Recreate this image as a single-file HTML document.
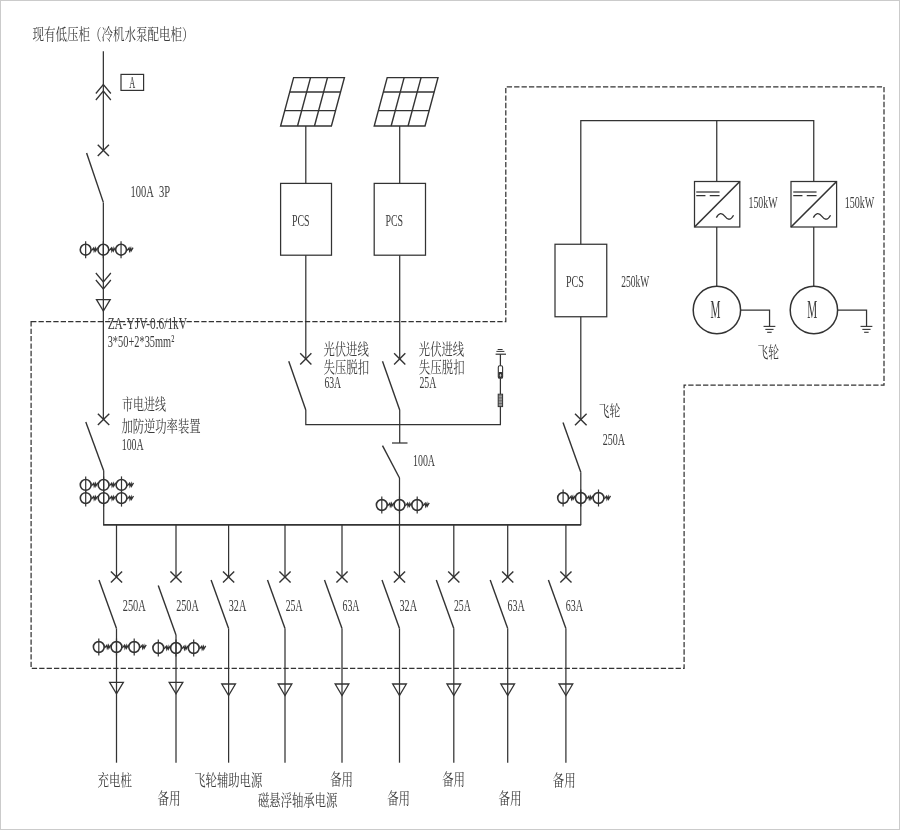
<!DOCTYPE html>
<html lang="zh-CN">
<head>
<meta charset="utf-8">
<title>低压配电系统单线图</title>
<style>
html,body{margin:0;padding:0;background:#fff;}
body{width:900px;height:830px;overflow:hidden;}
svg{display:block;}
.g{stroke:#333;stroke-width:1.25;fill:none;stroke-linecap:butt;stroke-linejoin:miter;}
.dash{stroke-dasharray:5.3 2.1;}
text{fill:#3c3c3c;stroke:none;}
.t text{font-family:"Liberation Serif","Noto Serif CJK SC",serif;}
</style>
</head>
<body>
<svg width="900" height="830" viewBox="0 0 900 830">
<defs><filter id="soft" x="0" y="0" width="900" height="830" filterUnits="userSpaceOnUse"><feGaussianBlur stdDeviation="0.3"/></filter></defs>
<rect x="0" y="0" width="900" height="830" fill="#fff"/>
<rect x="0.5" y="0.5" width="899" height="829" fill="none" stroke="#cbcbcb" stroke-width="1"/>
<g class="g">
<g class="dash">
<polygon points="31.1,321.65 505.8,321.65 505.8,86.9 884,86.9 884,385 684.1,385 684.1,668.35 31.1,668.35" fill="none" stroke-width="1.25"/>
</g>
<line x1="103.35" y1="51.2" x2="103.35" y2="150.4"/>
<polyline points="95.85,93.5 103.35,84.5 110.85,93.5" fill="none"/>
<polyline points="95.85,100 103.35,91 110.85,100" fill="none"/>
<rect x="121" y="74.4" width="22.6" height="16.0" fill="none" stroke-width="1.2"/>
<line x1="97.75" y1="144.8" x2="108.94999999999999" y2="156.0" stroke-width="1.4"/>
<line x1="97.75" y1="156.0" x2="108.94999999999999" y2="144.8" stroke-width="1.4"/>
<line x1="86.6" y1="153" x2="103.35" y2="202.4" stroke-width="1.4"/>
<line x1="103.35" y1="202.4" x2="103.35" y2="419.4"/>
<circle cx="85.64999999999999" cy="249.7" r="5.4" fill="none" stroke-width="1.6"/>
<line x1="85.64999999999999" y1="241.2" x2="85.64999999999999" y2="258.2" stroke-width="1.2"/>
<polyline points="91.45,250.6 93.65,248.0 94.15,251.0 95.35,248.3 95.75,250.8 97.65,247.6" fill="none" stroke-width="1.3"/>
<circle cx="103.35" cy="249.7" r="5.4" fill="none" stroke-width="1.6"/>
<line x1="103.35" y1="241.2" x2="103.35" y2="258.2" stroke-width="1.2"/>
<polyline points="109.15,250.6 111.35,248.0 111.85,251.0 113.05,248.3 113.45,250.8 115.35,247.6" fill="none" stroke-width="1.3"/>
<circle cx="121.05" cy="249.7" r="5.4" fill="none" stroke-width="1.6"/>
<line x1="121.05" y1="241.2" x2="121.05" y2="258.2" stroke-width="1.2"/>
<polyline points="126.85,250.6 129.05,248.0 129.55,251.0 130.75,248.3 131.15,250.8 133.05,247.6" fill="none" stroke-width="1.3"/>
<polyline points="95.85,273 103.35,282 110.85,273" fill="none"/>
<polyline points="95.85,280 103.35,289 110.85,280" fill="none"/>
<polygon points="96.5,299.6 110.19999999999999,299.6 103.35,311" fill="none" stroke-width="1.3"/>
<line x1="97.85" y1="413.7" x2="109.25" y2="425.09999999999997" stroke-width="1.4"/>
<line x1="97.85" y1="425.09999999999997" x2="109.25" y2="413.7" stroke-width="1.4"/>
<line x1="85.8" y1="422.1" x2="103.7" y2="470.8" stroke-width="1.4"/>
<line x1="103.7" y1="470.8" x2="103.7" y2="525"/>
<circle cx="85.70000000000002" cy="484.9" r="5.4" fill="none" stroke-width="1.6"/>
<line x1="85.70000000000002" y1="476.4" x2="85.70000000000002" y2="493.4" stroke-width="1.2"/>
<polyline points="91.5,485.8 93.7,483.2 94.2,486.2 95.4,483.5 95.8,486.0 97.7,482.8" fill="none" stroke-width="1.3"/>
<circle cx="103.60000000000001" cy="484.9" r="5.4" fill="none" stroke-width="1.6"/>
<line x1="103.60000000000001" y1="476.4" x2="103.60000000000001" y2="493.4" stroke-width="1.2"/>
<polyline points="109.4,485.8 111.6,483.2 112.1,486.2 113.3,483.5 113.7,486.0 115.6,482.8" fill="none" stroke-width="1.3"/>
<circle cx="121.5" cy="484.9" r="5.4" fill="none" stroke-width="1.6"/>
<line x1="121.5" y1="476.4" x2="121.5" y2="493.4" stroke-width="1.2"/>
<polyline points="127.3,485.8 129.5,483.2 130.0,486.2 131.2,483.5 131.6,486.0 133.5,482.8" fill="none" stroke-width="1.3"/>
<circle cx="85.70000000000002" cy="498.1" r="5.4" fill="none" stroke-width="1.6"/>
<line x1="85.70000000000002" y1="489.6" x2="85.70000000000002" y2="506.6" stroke-width="1.2"/>
<polyline points="91.5,499.0 93.7,496.4 94.2,499.4 95.4,496.7 95.8,499.2 97.7,496.0" fill="none" stroke-width="1.3"/>
<circle cx="103.60000000000001" cy="498.1" r="5.4" fill="none" stroke-width="1.6"/>
<line x1="103.60000000000001" y1="489.6" x2="103.60000000000001" y2="506.6" stroke-width="1.2"/>
<polyline points="109.4,499.0 111.6,496.4 112.1,499.4 113.3,496.7 113.7,499.2 115.6,496.0" fill="none" stroke-width="1.3"/>
<circle cx="121.5" cy="498.1" r="5.4" fill="none" stroke-width="1.6"/>
<line x1="121.5" y1="489.6" x2="121.5" y2="506.6" stroke-width="1.2"/>
<polyline points="127.3,499.0 129.5,496.4 130.0,499.4 131.2,496.7 131.6,499.2 133.5,496.0" fill="none" stroke-width="1.3"/>
<line x1="103.10000000000001" y1="524.9" x2="581.1" y2="524.9" stroke-width="1.7"/>
<line x1="116.5" y1="525" x2="116.5" y2="577"/>
<line x1="110.9" y1="571.4" x2="122.1" y2="582.6" stroke-width="1.4"/>
<line x1="110.9" y1="582.6" x2="122.1" y2="571.4" stroke-width="1.4"/>
<line x1="99.0" y1="580" x2="116.5" y2="628.5" stroke-width="1.4"/>
<line x1="116.5" y1="628.5" x2="116.5" y2="762.7"/>
<polygon points="109.65,682.3 123.35,682.3 116.5,693.8" fill="none" stroke-width="1.3"/>
<line x1="176" y1="525" x2="176" y2="577"/>
<line x1="170.4" y1="571.4" x2="181.6" y2="582.6" stroke-width="1.4"/>
<line x1="170.4" y1="582.6" x2="181.6" y2="571.4" stroke-width="1.4"/>
<line x1="158.25" y1="585.5" x2="176" y2="635" stroke-width="1.4"/>
<line x1="176" y1="635" x2="176" y2="762.7"/>
<polygon points="169.15,682.3 182.85,682.3 176,693.8" fill="none" stroke-width="1.3"/>
<line x1="228.6" y1="525" x2="228.6" y2="577"/>
<line x1="223.0" y1="571.4" x2="234.2" y2="582.6" stroke-width="1.4"/>
<line x1="223.0" y1="582.6" x2="234.2" y2="571.4" stroke-width="1.4"/>
<line x1="211.1" y1="580" x2="228.6" y2="628.5" stroke-width="1.4"/>
<line x1="228.6" y1="628.5" x2="228.6" y2="762.7"/>
<polygon points="221.75,684.0 235.45,684.0 228.6,695.5" fill="none" stroke-width="1.3"/>
<line x1="285" y1="525" x2="285" y2="577"/>
<line x1="279.4" y1="571.4" x2="290.6" y2="582.6" stroke-width="1.4"/>
<line x1="279.4" y1="582.6" x2="290.6" y2="571.4" stroke-width="1.4"/>
<line x1="267.5" y1="580" x2="285" y2="628.5" stroke-width="1.4"/>
<line x1="285" y1="628.5" x2="285" y2="762.7"/>
<polygon points="278.15,684.0 291.85,684.0 285,695.5" fill="none" stroke-width="1.3"/>
<line x1="342" y1="525" x2="342" y2="577"/>
<line x1="336.4" y1="571.4" x2="347.6" y2="582.6" stroke-width="1.4"/>
<line x1="336.4" y1="582.6" x2="347.6" y2="571.4" stroke-width="1.4"/>
<line x1="324.5" y1="580" x2="342" y2="628.5" stroke-width="1.4"/>
<line x1="342" y1="628.5" x2="342" y2="762.7"/>
<polygon points="335.15,684.0 348.85,684.0 342,695.5" fill="none" stroke-width="1.3"/>
<line x1="399.5" y1="525" x2="399.5" y2="577"/>
<line x1="393.9" y1="571.4" x2="405.1" y2="582.6" stroke-width="1.4"/>
<line x1="393.9" y1="582.6" x2="405.1" y2="571.4" stroke-width="1.4"/>
<line x1="382.0" y1="580" x2="399.5" y2="628.5" stroke-width="1.4"/>
<line x1="399.5" y1="628.5" x2="399.5" y2="762.7"/>
<polygon points="392.65,684.0 406.35,684.0 399.5,695.5" fill="none" stroke-width="1.3"/>
<line x1="453.8" y1="525" x2="453.8" y2="577"/>
<line x1="448.2" y1="571.4" x2="459.40000000000003" y2="582.6" stroke-width="1.4"/>
<line x1="448.2" y1="582.6" x2="459.40000000000003" y2="571.4" stroke-width="1.4"/>
<line x1="436.3" y1="580" x2="453.8" y2="628.5" stroke-width="1.4"/>
<line x1="453.8" y1="628.5" x2="453.8" y2="762.7"/>
<polygon points="446.95,684.0 460.65000000000003,684.0 453.8,695.5" fill="none" stroke-width="1.3"/>
<line x1="507.7" y1="525" x2="507.7" y2="577"/>
<line x1="502.09999999999997" y1="571.4" x2="513.3" y2="582.6" stroke-width="1.4"/>
<line x1="502.09999999999997" y1="582.6" x2="513.3" y2="571.4" stroke-width="1.4"/>
<line x1="490.2" y1="580" x2="507.7" y2="628.5" stroke-width="1.4"/>
<line x1="507.7" y1="628.5" x2="507.7" y2="762.7"/>
<polygon points="500.84999999999997,684.0 514.55,684.0 507.7,695.5" fill="none" stroke-width="1.3"/>
<line x1="565.9" y1="525" x2="565.9" y2="577"/>
<line x1="560.3" y1="571.4" x2="571.5" y2="582.6" stroke-width="1.4"/>
<line x1="560.3" y1="582.6" x2="571.5" y2="571.4" stroke-width="1.4"/>
<line x1="548.4" y1="580" x2="565.9" y2="628.5" stroke-width="1.4"/>
<line x1="565.9" y1="628.5" x2="565.9" y2="762.7"/>
<polygon points="559.05,684.0 572.75,684.0 565.9,695.5" fill="none" stroke-width="1.3"/>
<circle cx="98.8" cy="647" r="5.4" fill="none" stroke-width="1.6"/>
<line x1="98.8" y1="638.5" x2="98.8" y2="655.5" stroke-width="1.2"/>
<polyline points="104.6,647.9 106.8,645.3 107.3,648.3 108.5,645.6 108.9,648.1 110.8,644.9" fill="none" stroke-width="1.3"/>
<circle cx="116.5" cy="647" r="5.4" fill="none" stroke-width="1.6"/>
<line x1="116.5" y1="638.5" x2="116.5" y2="655.5" stroke-width="1.2"/>
<polyline points="122.3,647.9 124.5,645.3 125.0,648.3 126.2,645.6 126.6,648.1 128.5,644.9" fill="none" stroke-width="1.3"/>
<circle cx="134.2" cy="647" r="5.4" fill="none" stroke-width="1.6"/>
<line x1="134.2" y1="638.5" x2="134.2" y2="655.5" stroke-width="1.2"/>
<polyline points="140.0,647.9 142.2,645.3 142.7,648.3 143.9,645.6 144.3,648.1 146.2,644.9" fill="none" stroke-width="1.3"/>
<circle cx="158.3" cy="648" r="5.4" fill="none" stroke-width="1.6"/>
<line x1="158.3" y1="639.5" x2="158.3" y2="656.5" stroke-width="1.2"/>
<polyline points="164.1,648.9 166.3,646.3 166.8,649.3 168.0,646.6 168.4,649.1 170.3,645.9" fill="none" stroke-width="1.3"/>
<circle cx="176" cy="648" r="5.4" fill="none" stroke-width="1.6"/>
<line x1="176" y1="639.5" x2="176" y2="656.5" stroke-width="1.2"/>
<polyline points="181.8,648.9 184.0,646.3 184.5,649.3 185.7,646.6 186.1,649.1 188.0,645.9" fill="none" stroke-width="1.3"/>
<circle cx="193.7" cy="648" r="5.4" fill="none" stroke-width="1.6"/>
<line x1="193.7" y1="639.5" x2="193.7" y2="656.5" stroke-width="1.2"/>
<polyline points="199.5,648.9 201.7,646.3 202.2,649.3 203.4,646.6 203.8,649.1 205.7,645.9" fill="none" stroke-width="1.3"/>
<polygon points="293.6,77.6 344.40000000000003,77.6 331.40000000000003,126 280.6,126" fill="none" stroke-width="1.4"/>
<line x1="310.53" y1="77.6" x2="297.53" y2="126" stroke-width="1.4"/>
<line x1="327.47" y1="77.6" x2="314.47" y2="126" stroke-width="1.4"/>
<line x1="289.73" y1="92" x2="340.53" y2="92" stroke-width="1.4"/>
<line x1="284.74" y1="110.6" x2="335.54" y2="110.6" stroke-width="1.4"/>
<polygon points="387.2,77.6 438.0,77.6 425.0,126 374.2,126" fill="none" stroke-width="1.4"/>
<line x1="404.13" y1="77.6" x2="391.13" y2="126" stroke-width="1.4"/>
<line x1="421.07" y1="77.6" x2="408.07" y2="126" stroke-width="1.4"/>
<line x1="383.33" y1="92" x2="434.13" y2="92" stroke-width="1.4"/>
<line x1="378.34" y1="110.6" x2="429.14" y2="110.6" stroke-width="1.4"/>
<line x1="305.8" y1="126" x2="305.8" y2="183.4"/>
<line x1="399.7" y1="126" x2="399.7" y2="183.4"/>
<rect x="280.6" y="183.4" width="50.9" height="71.8" fill="none"/>
<rect x="374.2" y="183.4" width="51.3" height="71.8" fill="none"/>
<line x1="305.8" y1="255.2" x2="305.8" y2="359.3"/>
<line x1="399.7" y1="255.2" x2="399.7" y2="359.3"/>
<line x1="300.2" y1="353.2" x2="311.40000000000003" y2="364.40000000000003" stroke-width="1.4"/>
<line x1="300.2" y1="364.40000000000003" x2="311.40000000000003" y2="353.2" stroke-width="1.4"/>
<line x1="394.09999999999997" y1="353.2" x2="405.3" y2="364.40000000000003" stroke-width="1.4"/>
<line x1="394.09999999999997" y1="364.40000000000003" x2="405.3" y2="353.2" stroke-width="1.4"/>
<line x1="288.75" y1="361.25" x2="305.8" y2="410" stroke-width="1.4"/>
<line x1="382.5" y1="361.25" x2="399.7" y2="410" stroke-width="1.4"/>
<polyline points="305.8,410 305.8,424.5 500.4,424.5 500.4,354.2" fill="none"/>
<line x1="399.7" y1="410" x2="399.7" y2="443"/>
<line x1="392" y1="443" x2="407.5" y2="443"/>
<line x1="382.5" y1="445.7" x2="399.5" y2="478" stroke-width="1.4"/>
<line x1="399.5" y1="478" x2="399.5" y2="525"/>
<circle cx="381.8" cy="505" r="5.4" fill="none" stroke-width="1.6"/>
<line x1="381.8" y1="496.5" x2="381.8" y2="513.5" stroke-width="1.2"/>
<polyline points="387.6,505.9 389.8,503.3 390.3,506.3 391.5,503.6 391.9,506.1 393.8,502.9" fill="none" stroke-width="1.3"/>
<circle cx="399.5" cy="505" r="5.4" fill="none" stroke-width="1.6"/>
<line x1="399.5" y1="496.5" x2="399.5" y2="513.5" stroke-width="1.2"/>
<polyline points="405.3,505.9 407.5,503.3 408.0,506.3 409.2,503.6 409.6,506.1 411.5,502.9" fill="none" stroke-width="1.3"/>
<circle cx="417.2" cy="505" r="5.4" fill="none" stroke-width="1.6"/>
<line x1="417.2" y1="496.5" x2="417.2" y2="513.5" stroke-width="1.2"/>
<polyline points="423.0,505.9 425.2,503.3 425.7,506.3 426.9,503.6 427.3,506.1 429.2,502.9" fill="none" stroke-width="1.3"/>
<line x1="497.7" y1="349.5" x2="502.6" y2="349.5" stroke-width="1"/>
<line x1="496.4" y1="351.4" x2="504.4" y2="351.4" stroke-width="1"/>
<line x1="495.6" y1="354.2" x2="506" y2="354.2" stroke-width="1.2"/>
<rect x="498.3" y="365.8" width="4.3" height="12.5" rx="1.4" fill="#fff" stroke-width="1.1"/>
<rect x="498.5" y="372" width="3.9" height="6.1" rx="1" fill="#333" stroke="none"/>
<ellipse cx="500.5" cy="375.2" rx="0.75" ry="1.5" fill="#c8c8c8" stroke="none"/>
<rect x="498.2" y="394.2" width="4.4" height="12.4" fill="#bbb" stroke-width="1"/>
<line x1="498.2" y1="395.75" x2="502.6" y2="395.75" stroke-width="0.6"/>
<line x1="498.2" y1="397.3" x2="502.6" y2="397.3" stroke-width="0.6"/>
<line x1="498.2" y1="398.85" x2="502.6" y2="398.85" stroke-width="0.6"/>
<line x1="498.2" y1="400.4" x2="502.6" y2="400.4" stroke-width="0.6"/>
<line x1="498.2" y1="401.95" x2="502.6" y2="401.95" stroke-width="0.6"/>
<line x1="498.2" y1="403.5" x2="502.6" y2="403.5" stroke-width="0.6"/>
<line x1="498.2" y1="405.05" x2="502.6" y2="405.05" stroke-width="0.6"/>
<polyline points="580.8,244.25 580.8,120.5 813.75,120.5 813.75,181.5" fill="none"/>
<line x1="716.75" y1="120.5" x2="716.75" y2="181.5"/>
<rect x="555" y="244.25" width="51.75" height="72.5" fill="none"/>
<line x1="580.8" y1="316.75" x2="580.8" y2="419.5"/>
<line x1="575.0" y1="413.7" x2="586.5999999999999" y2="425.3" stroke-width="1.4"/>
<line x1="575.0" y1="425.3" x2="586.5999999999999" y2="413.7" stroke-width="1.4"/>
<line x1="563" y1="422.5" x2="580.8" y2="472.2" stroke-width="1.4"/>
<line x1="580.8" y1="472.2" x2="580.8" y2="525"/>
<circle cx="563.0999999999999" cy="498" r="5.4" fill="none" stroke-width="1.6"/>
<line x1="563.0999999999999" y1="489.5" x2="563.0999999999999" y2="506.5" stroke-width="1.2"/>
<polyline points="568.9,498.9 571.1,496.3 571.6,499.3 572.8,496.6 573.2,499.1 575.1,495.9" fill="none" stroke-width="1.3"/>
<circle cx="580.8" cy="498" r="5.4" fill="none" stroke-width="1.6"/>
<line x1="580.8" y1="489.5" x2="580.8" y2="506.5" stroke-width="1.2"/>
<polyline points="586.6,498.9 588.8,496.3 589.3,499.3 590.5,496.6 590.9,499.1 592.8,495.9" fill="none" stroke-width="1.3"/>
<circle cx="598.5" cy="498" r="5.4" fill="none" stroke-width="1.6"/>
<line x1="598.5" y1="489.5" x2="598.5" y2="506.5" stroke-width="1.2"/>
<polyline points="604.3,498.9 606.5,496.3 607.0,499.3 608.2,496.6 608.6,499.1 610.5,495.9" fill="none" stroke-width="1.3"/>
<rect x="694.5" y="181.5" width="45.3" height="45.5" fill="none" stroke-width="1.25"/>
<line x1="694.5" y1="227" x2="739.8" y2="181.5" stroke-width="1.6"/>
<line x1="696.25" y1="192" x2="719.55" y2="192" stroke-width="1.25"/>
<line x1="696.25" y1="195.6" x2="719.55" y2="195.6" stroke-width="1.25" stroke-dasharray="9.2 4.3 9.8 9"/>
<path d="M716.35,217.6 q4,-7.4 8.6,-1.2 t8.6,-1.2" fill="none" stroke-width="1.3"/>
<line x1="716.75" y1="227" x2="716.75" y2="286.3"/>
<circle cx="716.9" cy="310.0" r="23.7" fill="none" stroke-width="1.5"/>
<polyline points="740.65,310.2 769.55,310.2 769.55,326.3" fill="none"/>
<line x1="763.55" y1="326.4" x2="775.3499999999999" y2="326.4" stroke-width="1.1"/>
<line x1="765.3499999999999" y1="329.4" x2="773.55" y2="329.4" stroke-width="1.1"/>
<line x1="767.15" y1="332.3" x2="771.65" y2="332.3" stroke-width="1.1"/>
<rect x="791" y="181.5" width="45.6" height="45.5" fill="none" stroke-width="1.25"/>
<line x1="791" y1="227" x2="836.6" y2="181.5" stroke-width="1.6"/>
<line x1="793.25" y1="192" x2="816.55" y2="192" stroke-width="1.25"/>
<line x1="793.25" y1="195.6" x2="816.55" y2="195.6" stroke-width="1.25" stroke-dasharray="9.2 4.3 9.8 9"/>
<path d="M813.35,217.6 q4,-7.4 8.6,-1.2 t8.6,-1.2" fill="none" stroke-width="1.3"/>
<line x1="813.75" y1="227" x2="813.75" y2="286.3"/>
<circle cx="813.9" cy="310.0" r="23.7" fill="none" stroke-width="1.5"/>
<polyline points="837.65,310.2 866.55,310.2 866.55,326.3" fill="none"/>
<line x1="860.55" y1="326.4" x2="872.3499999999999" y2="326.4" stroke-width="1.1"/>
<line x1="862.3499999999999" y1="329.4" x2="870.55" y2="329.4" stroke-width="1.1"/>
<line x1="864.15" y1="332.3" x2="868.65" y2="332.3" stroke-width="1.1"/>
</g>
<g class="t" filter="url(#soft)">
<text x="32.49" y="40.29" font-size="15.75" textLength="160.89" lengthAdjust="spacingAndGlyphs">现有低压柜（冷机水泵配电柜）</text>
<text x="129.29" y="88.00" font-size="16.70" textLength="6.01" lengthAdjust="spacingAndGlyphs">A</text>
<text x="130.56" y="196.76" font-size="16.05" textLength="39.55" lengthAdjust="spacingAndGlyphs" word-spacing="0.3em">100A 3P</text>
<text x="107.69" y="328.56" font-size="16.17" textLength="79.26" lengthAdjust="spacingAndGlyphs">ZA-YJV-0.6/1kV</text>
<text x="107.69" y="346.94" font-size="16.89" textLength="66.56" lengthAdjust="spacingAndGlyphs">3*50+2*35mm²</text>
<text x="121.99" y="409.75" font-size="16.23" textLength="43.96" lengthAdjust="spacingAndGlyphs">市电进线</text>
<text x="121.45" y="431.75" font-size="16.07" textLength="79.06" lengthAdjust="spacingAndGlyphs">加防逆功率装置</text>
<text x="121.72" y="450.14" font-size="16.60" textLength="21.88" lengthAdjust="spacingAndGlyphs">100A</text>
<text x="291.93" y="226.44" font-size="16.89" textLength="17.59" lengthAdjust="spacingAndGlyphs">PCS</text>
<text x="385.43" y="226.44" font-size="16.89" textLength="17.59" lengthAdjust="spacingAndGlyphs">PCS</text>
<text x="323.39" y="355.38" font-size="16.34" textLength="45.36" lengthAdjust="spacingAndGlyphs">光伏进线</text>
<text x="323.38" y="372.97" font-size="16.45" textLength="45.89" lengthAdjust="spacingAndGlyphs">失压脱扣</text>
<text x="324.39" y="388.15" font-size="16.89" textLength="16.72" lengthAdjust="spacingAndGlyphs">63A</text>
<text x="418.79" y="355.38" font-size="16.34" textLength="45.37" lengthAdjust="spacingAndGlyphs">光伏进线</text>
<text x="418.79" y="372.97" font-size="16.45" textLength="45.88" lengthAdjust="spacingAndGlyphs">失压脱扣</text>
<text x="419.39" y="388.15" font-size="16.89" textLength="16.91" lengthAdjust="spacingAndGlyphs">25A</text>
<text x="412.97" y="465.94" font-size="16.89" textLength="22.03" lengthAdjust="spacingAndGlyphs">100A</text>
<text x="565.99" y="286.74" font-size="16.89" textLength="17.79" lengthAdjust="spacingAndGlyphs">PCS</text>
<text x="621.24" y="287.45" font-size="16.17" textLength="28.01" lengthAdjust="spacingAndGlyphs">250kW</text>
<text x="748.48" y="207.95" font-size="16.17" textLength="29.02" lengthAdjust="spacingAndGlyphs">150kW</text>
<text x="844.72" y="207.95" font-size="16.17" textLength="29.53" lengthAdjust="spacingAndGlyphs">150kW</text>
<text x="710.53" y="317.70" font-size="25.08" textLength="9.93" lengthAdjust="spacingAndGlyphs">M</text>
<text x="807.32" y="317.70" font-size="25.08" textLength="9.94" lengthAdjust="spacingAndGlyphs">M</text>
<text x="757.46" y="358.02" font-size="15.44" textLength="21.57" lengthAdjust="spacingAndGlyphs">飞轮</text>
<text x="598.81" y="415.93" font-size="15.34" textLength="21.52" lengthAdjust="spacingAndGlyphs">飞轮</text>
<text x="602.69" y="445.24" font-size="16.60" textLength="22.21" lengthAdjust="spacingAndGlyphs">250A</text>
<text x="122.74" y="611.05" font-size="17.04" textLength="23.01" lengthAdjust="spacingAndGlyphs">250A</text>
<text x="176.24" y="611.05" font-size="17.04" textLength="22.51" lengthAdjust="spacingAndGlyphs">250A</text>
<text x="228.73" y="611.05" font-size="17.04" textLength="17.52" lengthAdjust="spacingAndGlyphs">32A</text>
<text x="285.73" y="611.05" font-size="17.04" textLength="16.77" lengthAdjust="spacingAndGlyphs">25A</text>
<text x="342.48" y="611.05" font-size="17.04" textLength="17.02" lengthAdjust="spacingAndGlyphs">63A</text>
<text x="399.48" y="611.05" font-size="17.04" textLength="17.52" lengthAdjust="spacingAndGlyphs">32A</text>
<text x="453.89" y="611.05" font-size="17.04" textLength="16.91" lengthAdjust="spacingAndGlyphs">25A</text>
<text x="507.48" y="611.05" font-size="17.04" textLength="17.22" lengthAdjust="spacingAndGlyphs">63A</text>
<text x="565.69" y="611.05" font-size="17.04" textLength="17.31" lengthAdjust="spacingAndGlyphs">63A</text>
<text x="97.49" y="786.46" font-size="15.96" textLength="34.47" lengthAdjust="spacingAndGlyphs">充电桩</text>
<text x="157.46" y="804.35" font-size="16.13" textLength="23.03" lengthAdjust="spacingAndGlyphs">备用</text>
<text x="194.24" y="785.67" font-size="16.45" textLength="68.08" lengthAdjust="spacingAndGlyphs">飞轮辅助电源</text>
<text x="258.05" y="805.65" font-size="16.13" textLength="79.26" lengthAdjust="spacingAndGlyphs">磁悬浮轴承电源</text>
<text x="330.18" y="785.15" font-size="16.13" textLength="22.90" lengthAdjust="spacingAndGlyphs">备用</text>
<text x="387.18" y="804.15" font-size="16.13" textLength="22.90" lengthAdjust="spacingAndGlyphs">备用</text>
<text x="442.18" y="785.15" font-size="16.13" textLength="22.90" lengthAdjust="spacingAndGlyphs">备用</text>
<text x="498.46" y="804.15" font-size="16.13" textLength="23.22" lengthAdjust="spacingAndGlyphs">备用</text>
<text x="552.76" y="786.46" font-size="16.03" textLength="22.81" lengthAdjust="spacingAndGlyphs">备用</text>
</g>
</svg>
</body>
</html>
